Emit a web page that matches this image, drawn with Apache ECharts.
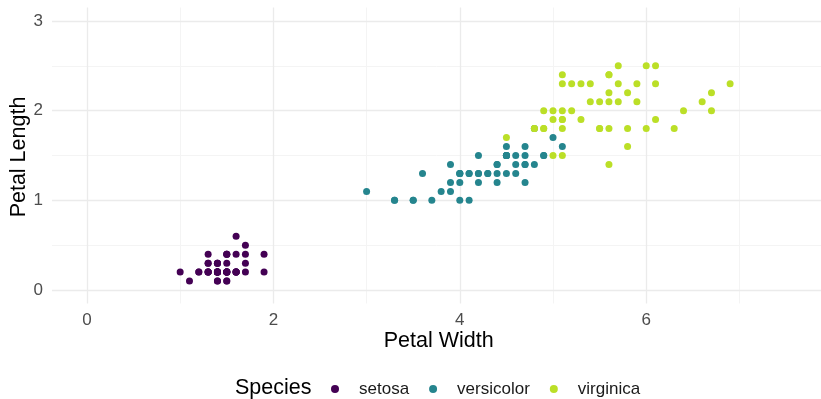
<!DOCTYPE html>
<html><head><meta charset="utf-8">
<script src="https://cdn.jsdelivr.net/npm/echarts@6/dist/echarts.min.js"></script>
<style>html,body{margin:0;padding:0;background:#fff}#c{width:821px;height:399px}</style>
</head><body><div id="c"></div>
<script>
const species = ["setosa", "versicolor", "virginica"];
const colors = ["#440154", "#25858E", "#BBDF27"];
const setosaX = [1.4,1.4,1.3,1.5,1.4,1.7,1.4,1.5,1.4,1.5,1.5,1.6,1.4,1.1,1.2,1.5,1.3,1.4,1.7,1.5,1.7,1.5,1.0,1.7,1.9,1.6,1.6,1.5,1.4,1.6,1.6,1.5,1.5,1.4,1.5,1.2,1.3,1.4,1.3,1.5,1.3,1.3,1.3,1.6,1.9,1.4,1.6,1.4,1.5,1.4];
const setosaY = [0.2,0.2,0.2,0.2,0.2,0.4,0.3,0.2,0.2,0.1,0.2,0.2,0.1,0.1,0.2,0.4,0.4,0.3,0.3,0.3,0.2,0.4,0.2,0.5,0.2,0.2,0.4,0.2,0.2,0.2,0.2,0.4,0.1,0.2,0.2,0.2,0.2,0.1,0.2,0.2,0.3,0.3,0.2,0.6,0.4,0.3,0.2,0.2,0.2,0.2];
const versicolorX = [4.7,4.5,4.9,4.0,4.6,4.5,4.7,3.3,4.6,3.9,3.5,4.2,4.0,4.7,3.6,4.4,4.5,4.1,4.5,3.9,4.8,4.0,4.9,4.7,4.3,4.4,4.8,5.0,4.5,3.5,3.8,3.7,3.9,5.1,4.5,4.5,4.7,4.4,4.1,4.0,4.4,4.6,4.0,3.3,4.2,4.2,4.2,4.3,3.0,4.1];
const versicolorY = [1.4,1.5,1.5,1.3,1.5,1.3,1.6,1.0,1.3,1.4,1.0,1.5,1.0,1.4,1.3,1.4,1.5,1.0,1.5,1.1,1.8,1.3,1.5,1.2,1.3,1.4,1.4,1.7,1.5,1.0,1.1,1.0,1.2,1.6,1.5,1.6,1.5,1.3,1.3,1.3,1.2,1.4,1.2,1.0,1.3,1.2,1.3,1.3,1.1,1.3];
const virginicaX = [6.0,5.1,5.9,5.6,5.8,6.6,4.5,6.3,5.8,6.1,5.1,5.3,5.5,5.0,5.1,5.3,5.5,6.7,6.9,5.0,5.7,4.9,6.7,4.9,5.7,6.0,4.8,4.9,5.6,5.8,6.1,6.4,5.6,5.1,5.6,6.1,5.6,5.5,4.8,5.4,5.6,5.1,5.1,5.9,5.7,5.2,5.0,5.2,5.4,5.1];
const virginicaY = [2.5,1.9,2.1,1.8,2.2,2.1,1.7,1.8,1.8,2.5,2.0,1.9,2.1,2.0,2.4,2.3,1.8,2.2,2.3,1.5,2.3,2.0,2.0,1.8,2.1,1.8,1.8,1.8,2.1,1.6,1.9,2.0,2.2,1.5,1.4,2.3,2.4,1.8,1.8,2.1,2.4,2.3,1.9,2.3,2.5,2.3,1.9,2.0,2.3,1.8];
const xTicks = [0, 2, 4, 6];
const xMinor = [1, 3, 5, 7];
const yTicks = [0, 1, 2, 3];
const yMinor = [0.5, 1.5, 2.5];
const xTitle = "Petal Width";
const yTitle = "Petal Length";
const legendTitle = "Species";

const xs = [setosaX, versicolorX, virginicaX];
const ys = [setosaY, versicolorY, virginicaY];
const FONT = "Liberation Sans, Arial, sans-serif";

const gridLines = [];
xMinor.forEach(v => gridLines.push({xAxis: v, lineStyle: {color: "#f4f4f4", width: 1, type: "solid"}}));
yMinor.forEach(v => gridLines.push({yAxis: v, lineStyle: {color: "#f4f4f4", width: 1, type: "solid"}}));
xTicks.forEach(v => gridLines.push({xAxis: v, lineStyle: {color: "#ebebeb", width: 1.3, type: "solid"}}));
yTicks.forEach(v => gridLines.push({yAxis: v, lineStyle: {color: "#ebebeb", width: 1.3, type: "solid"}}));

const series = [{
  type: "scatter", data: [], z: 0, silent: true,
  markLine: {silent: true, z: 0, symbol: "none", label: {show: false}, animation: false, data: gridLines}
}];
species.forEach((s, i) => {
  series.push({
    name: s, type: "scatter", z: 10, symbol: "circle", symbolSize: 7,
    itemStyle: {color: colors[i], opacity: 1},
    data: xs[i].map((x, j) => [x, ys[i][j]])
  });
});

const chart = echarts.init(document.getElementById("c"), null, {renderer: "canvas"});
chart.setOption({
  animation: false,
  backgroundColor: "#ffffff",
  grid: {left: 52, right: -5, top: 7.5, bottom: 95.5, containLabel: false},
  xAxis: {
    type: "value", min: -0.375, max: 7.875,
    axisLine: {show: false}, axisTick: {show: false, customValues: xTicks},
    splitLine: {show: false}, minorSplitLine: {show: false},
    axisLabel: {customValues: xTicks, margin: 8, color: "#4d4d4d", fontSize: 17, fontFamily: FONT}
  },
  yAxis: {
    type: "value", min: -0.15, max: 3.15,
    axisLine: {show: false}, axisTick: {show: false, customValues: yTicks},
    splitLine: {show: false},
    axisLabel: {customValues: yTicks, margin: 9, color: "#4d4d4d", fontSize: 17, fontFamily: FONT}
  },
  legend: {
    data: species, orient: "horizontal", left: 331, top: 380, padding: 0,
    itemWidth: 8, itemHeight: 8, itemGap: 20, icon: "circle",
    formatter: name => "{t|" + name + "}",
    textStyle: {fontSize: 17, color: "#1a1a1a", fontFamily: FONT, lineHeight: 18,
      rich: {t: {fontSize: 17, color: "#1a1a1a", fontFamily: FONT, lineHeight: 18, padding: [0, 0, 0, 15]}}}
  },
  graphic: [
    {type: "text", x: 438.7, y: 340.7, style: {text: xTitle, fontSize: 21.5, fontFamily: FONT, fill: "#000", align: "center", verticalAlign: "middle"}},
    {type: "text", x: 19, y: 157, rotation: Math.PI / 2, style: {text: yTitle, fontSize: 21.5, fontFamily: FONT, fill: "#000", align: "center", verticalAlign: "middle"}},
    {type: "text", x: 235, y: 388, style: {text: legendTitle, fontSize: 21.5, fontFamily: FONT, fill: "#000", align: "left", verticalAlign: "middle"}}
  ],
  series: series
});
</script></body></html>
